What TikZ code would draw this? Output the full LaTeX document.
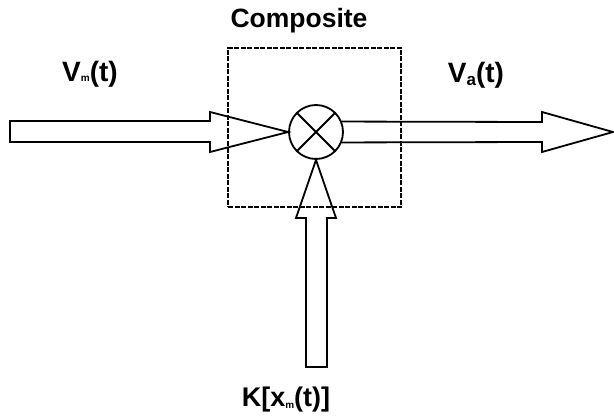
\documentclass[tikz,border=0pt]{standalone}
\usepackage{fontspec}
\setmainfont{Liberation Sans}
\newcommand{\lblfont}[1]{\fontsize{#1}{#1}\selectfont\bfseries}
\begin{document}
\begin{tikzpicture}[x=1pt,y=-1pt,line join=miter]
\tikzset{
  blk/.style={line width=1.8pt},
  lbl/.style={inner sep=0pt},
  boxline/.style={line width=1.2pt, dash pattern=on 5pt off 1.5pt},
  mixer/.style={circle, draw, line width=1.8pt, minimum size=54pt, inner sep=0pt}
}
\useasboundingbox (0,0) rectangle (614,420);
\node[mixer] (mix) at (316,132) {};
\draw[blk] (mix.north west) -- (mix.south east);
\draw[blk] (mix.north east) -- (mix.south west);
% input arrow
\draw[blk] (10,121) -- (210,121) -- (210,112) -- (mix.west) -- (210,152) -- (210,142) -- (10,142) -- cycle;
% output arrow
\draw[blk] (mix.22) -- (542,122) -- (542,112) -- (613,132) -- (542,152) -- (542,142) -- (mix.-22);
% bottom arrow
\draw[blk] (mix.south) -- (336,218) -- (327,218) -- (327,367) -- (306,367) -- (306,218) -- (296,218) -- cycle;
% composite box
\node[draw, boxline, minimum width=173pt, minimum height=159pt, inner sep=0pt] (comp) at (314.5,127.5) {};
\node[lbl] (ctitle) at (299,21) {\lblfont{26.5}Composite};
\node[lbl] (vm) at (90,74) {\lblfont{28}V\raisebox{0pt}{\fontsize{10}{10}\selectfont m}(t)};
\node[lbl] (va) at (476,75) {\lblfont{28}V\raisebox{-3pt}{\fontsize{17}{17}\selectfont a}(t)};
\node[lbl] (k) at (286,400) {\lblfont{27}K[x\raisebox{-2pt}{\fontsize{10}{10}\selectfont m}(t)]};
\end{tikzpicture}
\end{document}
